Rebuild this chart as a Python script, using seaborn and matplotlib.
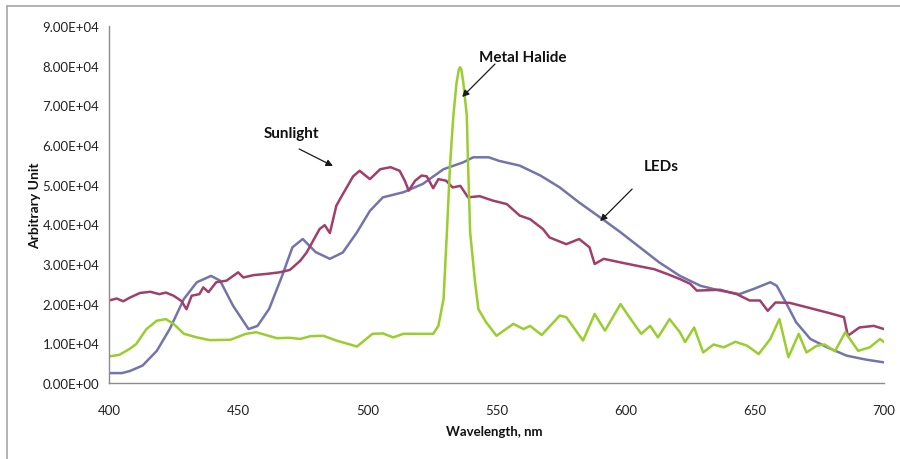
import matplotlib
matplotlib.use("Agg")
import matplotlib.pyplot as plt
import seaborn as sns
import numpy as np
from matplotlib.ticker import FuncFormatter, MultipleLocator
from matplotlib.lines import Line2D

# ---------------- data ----------------
led_nm = [400, 405, 408, 413, 418.5, 423.5, 429, 434, 439.5, 443, 448, 454, 457.5, 462, 467,
          471, 475, 480, 485.5, 490.5, 496, 501, 506, 514, 521.5, 529.5, 537, 541, 547, 551,
          559, 567, 574.5, 582, 590, 598, 605.5, 613, 621, 629, 636.5, 644, 649.5, 656, 658.5,
          662, 666, 671.5, 678, 685.5, 693, 700]
led_val = [2500, 2500, 3000, 4400, 8100, 13600, 21200, 25400, 27000, 25800, 19500, 13600, 14400,
           18700, 27000, 34200, 36300, 33000, 31300, 32900, 38000, 43400, 46800, 48100, 50200,
           53900, 55600, 56900, 56900, 56000, 54800, 52300, 49300, 45500, 41800, 38000, 34200,
           30400, 27000, 24500, 23300, 22400, 23700, 25400, 24500, 20300, 15300, 11100, 9000,
           6900, 5900, 5200]

sun_nm = [400, 403, 405.5, 408, 412, 416, 419.5, 422, 425, 428, 430, 432, 435, 436.5, 438.5,
          441.5, 445.5, 450, 452, 456, 461, 466, 470, 474, 476.5, 481.5, 483.5, 485.5, 488,
          490.5, 494.5, 497, 501, 505, 509, 512.5, 514.5, 516, 518.5, 521, 523, 525.5, 527.5,
          530.5, 533, 536, 539, 543.5, 548.5, 554, 559, 563, 568, 570.5, 577, 582, 586, 588,
          591.5, 598, 604, 611, 616, 621, 625, 627.5, 636.5, 643, 648, 652, 655, 658, 663.5,
          672.5, 679, 684.5, 686, 690.5, 696, 700]
sun_val = [20800, 21300, 20600, 21500, 22700, 23000, 22400, 22800, 22000, 20700, 18600, 22000,
           22400, 24100, 22900, 25400, 25800, 27900, 26600, 27200, 27500, 27900, 28500, 30800,
           32900, 38800, 39800, 37800, 44700, 47600, 52100, 53500, 51400, 53900, 54400, 53500,
           51000, 48500, 51000, 52300, 52100, 49100, 51400, 51000, 49300, 49700, 46800, 47100,
           46000, 45100, 42200, 41300, 38800, 36700, 35000, 36300, 34200, 30000, 31300, 30400,
           29600, 28700, 27500, 26200, 25000, 23300, 23500, 22400, 20800, 20800, 18200, 20300,
           20200, 18700, 17600, 16600, 11900, 14000, 14400, 13600]

mh_nm = [400, 404, 408, 410.5, 414.5, 418.5, 422, 425, 429, 434, 439, 447, 453, 457, 465, 470,
         474, 478, 483, 488, 496, 502, 506, 510, 514, 521.5, 525.5, 527.5, 529.5, 530.8, 532,
         533.3, 534.5, 535.4, 535.9, 536.4, 537.2, 538.5, 539, 539.8, 541.7, 543, 546, 550,
         556.5, 560.5, 563, 567.5, 574.5, 577, 583.5, 588, 592, 598, 601, 606, 609.5, 612.5,
         617, 621, 623, 626.5, 630, 634, 638, 642.5, 647, 651.5, 656, 659.5, 663, 667, 670,
         674, 677, 681, 685, 690, 694.5, 698.5, 700]
mh_val = [6700, 7100, 8600, 9800, 13600, 15700, 16100, 14900, 12400, 11500, 10800, 10900, 12400,
          12800, 11300, 11400, 11100, 11800, 11900, 10700, 9200, 12400, 12500, 11500, 12400,
          12400, 12400, 14400, 21200, 38000, 54800, 67400, 75500, 79000, 79600, 79000, 75500,
          67400, 54800, 38000, 25400, 18600, 15300, 11900, 14900, 13600, 14400, 12100, 17000,
          16600, 10700, 17400, 13200, 19900, 17000, 12400, 14400, 11500, 16100, 12800, 10300,
          14000, 7700, 9700, 9000, 10400, 9400, 7300, 11100, 16100, 6500, 12400, 7700, 9400,
          9700, 8000, 12800, 8100, 9000, 11100, 10300]

x_ticks = [400, 450, 500, 550, 600, 650, 700]
y_ticks = [0, 10000, 20000, 30000, 40000, 50000, 60000, 70000, 80000, 90000]

# ---------------- style ----------------
sns.set_style("white")
plt.rcParams['font.family'] = ['Lato', 'DejaVu Sans']

fig = plt.figure(figsize=(9, 4.6), dpi=100)
ax = fig.add_axes([109/900, 1-384/460, 775/900, 357/460])

c_led = '#7474AC'
c_sun = '#A03F69'
c_mh = '#9ACD2E'

sns.lineplot(x=led_nm, y=led_val, ax=ax, color=c_led, linewidth=1.8, errorbar=None)
sns.lineplot(x=sun_nm, y=sun_val, ax=ax, color=c_sun, linewidth=1.8, errorbar=None)
sns.lineplot(x=mh_nm, y=mh_val, ax=ax, color=c_mh, linewidth=1.8, errorbar=None)

ax.set_xlim(400, 700)
ax.set_ylim(0, 90000)
ax.set_xticks(x_ticks)
ax.set_yticks(y_ticks)
ax.yaxis.set_major_formatter(FuncFormatter(lambda v, p: f"{v:.2E}"))

for s in ['top', 'right']:
    ax.spines[s].set_visible(False)
for s in ['left', 'bottom']:
    ax.spines[s].set_color('#8c8c8c')
    ax.spines[s].set_linewidth(1.0)
ax.tick_params(axis='both', which='major', direction='out', length=4, width=1,
               color='#8c8c8c', labelsize=9.5, labelcolor='#222222')
ax.tick_params(axis='x', pad=11)
ax.tick_params(axis='y', pad=3)

ax.set_xlabel('Wavelength, nm', fontsize=9.5, fontweight='bold', color='#111111')
ax.set_ylabel('Arbitrary Unit', fontsize=10, fontweight='bold', color='#111111')
ax.xaxis.set_label_coords(0.497, -0.118)
ax.yaxis.set_label_coords(-0.088, 0.5)

# annotations
ann_kw = dict(fontsize=11, fontweight='bold', color='#111111', ha='center', va='center')
ax.text(560.3, 82200, 'Metal Halide', **ann_kw)
ax.text(470.8, 63000, 'Sunlight', **ann_kw)
ax.text(613.7, 54700, 'LEDs', **ann_kw)
arr = dict(arrowstyle='-|>', color='#1a1a1a', lw=0.9, mutation_scale=10, shrinkA=0, shrinkB=0)
ax.annotate('', xy=(536.7, 72100), xytext=(549.4, 80400), arrowprops=arr)
ax.annotate('', xy=(486.7, 54700), xytext=(473.6, 59000), arrowprops=arr)
ax.annotate('', xy=(590.1, 40800), xytext=(602.5, 48900), arrowprops=arr)

# outer chart border (cropped: visible only on left and top)
bx, by = 7/900, 1-7/460
fig.add_artist(Line2D([bx, bx], [0, by], transform=fig.transFigure, color='#a6a6a6', lw=1.2))
fig.add_artist(Line2D([bx, 1], [by, by], transform=fig.transFigure, color='#a6a6a6', lw=1.2))

fig.savefig('out.png', dpi=100)
